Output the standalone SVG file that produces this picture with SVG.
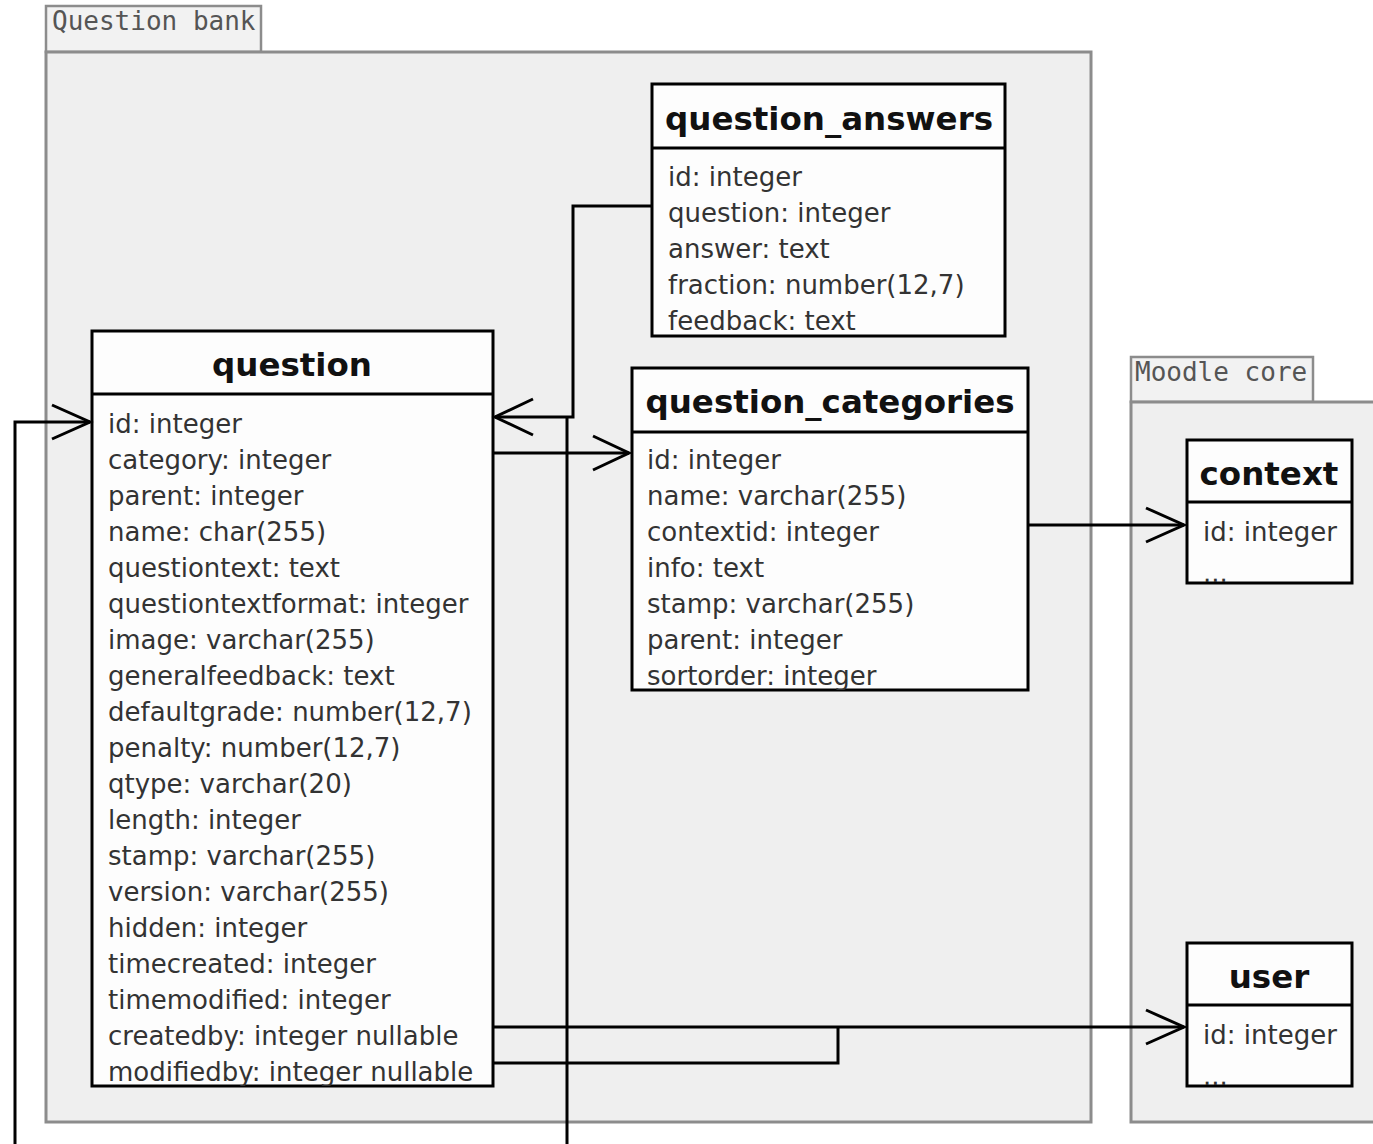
<svg xmlns="http://www.w3.org/2000/svg" width="1373" height="1144" viewBox="0 0 1373 1144">
<style>
.pkg{fill:#efefef;stroke:#8c8c8c;stroke-width:3}
.tab{fill:#f2f2f2;stroke:#8c8c8c;stroke-width:2.5}
.pkgl{font-family:"DejaVu Sans Mono",monospace;font-size:26px;fill:#555}
.box{fill:#fdfdfd;stroke:#000;stroke-width:3}
.sep{stroke:#000;stroke-width:3}
.ttl{font-family:"DejaVu Sans",sans-serif;font-weight:bold;font-size:32.5px;fill:#111;text-anchor:middle}
.att{font-family:"DejaVu Sans",sans-serif;font-size:26px;fill:#333}
.c{fill:none;stroke:#000;stroke-width:3}
</style>
<defs>
<clipPath id="cq"><rect x="92" y="331" width="401" height="755"/></clipPath>
<clipPath id="cqa"><rect x="652" y="84" width="353" height="252"/></clipPath>
<clipPath id="cqc"><rect x="632" y="368" width="396" height="322"/></clipPath>
<clipPath id="cctx"><rect x="1187" y="440" width="165" height="143"/></clipPath>
<clipPath id="cusr"><rect x="1187" y="943" width="165" height="143"/></clipPath>
</defs>
<rect width="1373" height="1144" fill="#fff"/>

<g id="pkg-questionbank">
<rect class="tab" x="46" y="6" width="215" height="46"/>
<rect class="pkg" x="46" y="52" width="1045" height="1070"/>
<text class="pkgl" x="52" y="30">Question bank</text>
</g>
<g id="pkg-moodlecore">
<rect class="tab" x="1131" y="357" width="182" height="45"/>
<rect class="pkg" x="1131" y="402" width="260" height="720"/>
<text class="pkgl" x="1135" y="381">Moodle core</text>
</g>

<g id="question">
<rect class="box" x="92" y="331" width="401" height="755"/>
<line class="sep" x1="92" y1="394" x2="493" y2="394"/>
<text class="ttl" x="292" y="376">question</text>
<g clip-path="url(#cq)" class="att">
<text x="108" y="433">id: integer</text>
<text x="108" y="469">category: integer</text>
<text x="108" y="505">parent: integer</text>
<text x="108" y="541">name: char(255)</text>
<text x="108" y="577">questiontext: text</text>
<text x="108" y="613">questiontextformat: integer</text>
<text x="108" y="649">image: varchar(255)</text>
<text x="108" y="685">generalfeedback: text</text>
<text x="108" y="721">defaultgrade: number(12,7)</text>
<text x="108" y="757">penalty: number(12,7)</text>
<text x="108" y="793">qtype: varchar(20)</text>
<text x="108" y="829">length: integer</text>
<text x="108" y="865">stamp: varchar(255)</text>
<text x="108" y="901">version: varchar(255)</text>
<text x="108" y="937">hidden: integer</text>
<text x="108" y="973">timecreated: integer</text>
<text x="108" y="1009">timemodified: integer</text>
<text x="108" y="1045">createdby: integer nullable</text>
<text x="108" y="1081">modifiedby: integer nullable</text>
</g>
</g>

<g id="question_answers">
<rect class="box" x="652" y="84" width="353" height="252"/>
<line class="sep" x1="652" y1="148" x2="1005" y2="148"/>
<text class="ttl" x="829" y="130">question_answers</text>
<g clip-path="url(#cqa)" class="att">
<text x="668" y="186">id: integer</text>
<text x="668" y="222">question: integer</text>
<text x="668" y="258">answer: text</text>
<text x="668" y="294">fraction: number(12,7)</text>
<text x="668" y="330">feedback: text</text>
</g>
</g>

<g id="question_categories">
<rect class="box" x="632" y="368" width="396" height="322"/>
<line class="sep" x1="632" y1="432" x2="1028" y2="432"/>
<text class="ttl" x="830" y="413">question_categories</text>
<g clip-path="url(#cqc)" class="att">
<text x="647" y="469">id: integer</text>
<text x="647" y="505">name: varchar(255)</text>
<text x="647" y="541">contextid: integer</text>
<text x="647" y="577">info: text</text>
<text x="647" y="613">stamp: varchar(255)</text>
<text x="647" y="649">parent: integer</text>
<text x="647" y="685">sortorder: integer</text>
</g>
</g>

<g id="context">
<rect class="box" x="1187" y="440" width="165" height="143"/>
<line class="sep" x1="1187" y1="502" x2="1352" y2="502"/>
<text class="ttl" x="1269" y="485">context</text>
<g clip-path="url(#cctx)" class="att">
<text x="1203" y="541">id: integer</text>
<text x="1203" y="582">...</text>
</g>
</g>

<g id="user">
<rect class="box" x="1187" y="943" width="165" height="143"/>
<line class="sep" x1="1187" y1="1005" x2="1352" y2="1005"/>
<text class="ttl" x="1269" y="988">user</text>
<g clip-path="url(#cusr)" class="att">
<text x="1203" y="1044">id: integer</text>
<text x="1203" y="1085">...</text>
</g>
</g>

<g id="connectors">
<polyline class="c" points="652,206 573,206 573,417 495,417"/>
<polyline class="c" points="533,399 495,417 533,435"/>
<line class="c" x1="567" y1="417" x2="567" y2="1144"/>
<polyline class="c" points="15,1144 15,422 90,422"/>
<polyline class="c" points="52,405 90,422 52,439"/>
<line class="c" x1="493" y1="453" x2="629" y2="453"/>
<polyline class="c" points="593,436 629,453 593,470"/>
<line class="c" x1="1028" y1="525" x2="1184" y2="525"/>
<polyline class="c" points="1146,508 1184,525 1146,542"/>
<line class="c" x1="493" y1="1027" x2="1184" y2="1027"/>
<polyline class="c" points="493,1063 838,1063 838,1027"/>
<polyline class="c" points="1146,1010 1184,1027 1146,1044"/>
</g>
</svg>
